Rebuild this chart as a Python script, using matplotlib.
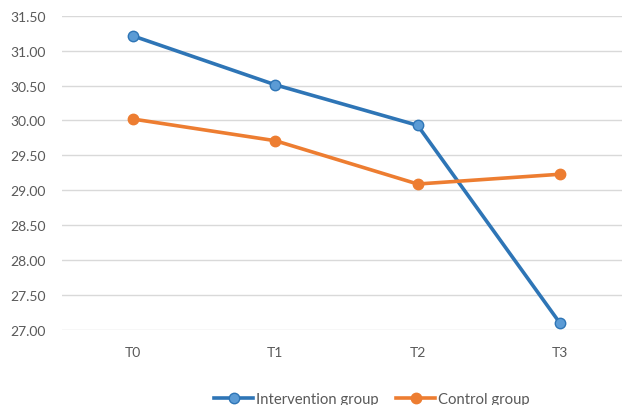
import matplotlib.pyplot as plt

times = ['T0', 'T1', 'T2', 'T3']
intervention = [31.21, 30.51, 29.93, 27.10]
control = [30.02, 29.71, 29.09, 29.23]
yticks = [27.0, 27.5, 28.0, 28.5, 29.0, 29.5, 30.0, 30.5, 31.0, 31.5]

plt.rcParams['font.family'] = ['Lato', 'DejaVu Sans']

fig = plt.figure(figsize=(6.22, 4.06), dpi=100)
# plot area runs past the right edge of the picture, like the original crop
ax = fig.add_axes([62/622, 1-331/406, 569/622, (331-16.7)/406])

x = list(range(len(times)))
ax.plot(x, intervention, color='#2e75b6', lw=2.6, marker='o', ms=7.5,
        mfc='#5b9bd5', mec='#2e75b6', mew=1.0, label='Intervention group', zorder=3)
ax.plot(x, control, color='#ed7d31', lw=2.6, marker='o', ms=7.5,
        mfc='#ed7d31', mec='#ed7d31', label='Control group', zorder=3)

ax.set_xlim(-0.5, len(times) - 0.5)
ax.set_ylim(27.0, 31.5)
ax.set_xticks(x)
ax.set_xticklabels(times)
ax.set_yticks(yticks)
ax.set_yticklabels(['%.2f' % v for v in yticks])
ax.tick_params(length=0, labelsize=10, labelcolor='#595959')
ax.tick_params(axis='y', pad=11.5)
ax.tick_params(axis='x', pad=11.5)
ax.grid(axis='y', color='#d9d9d9', lw=1.0)
ax.set_axisbelow(True)
for s in ax.spines.values():
    s.set_visible(False)

fig.legend(loc='center', bbox_to_anchor=(372/622, 1-400/406), ncol=2,
           frameon=False, fontsize=10.7, handlelength=2.6, handletextpad=0.2,
           columnspacing=1.2, labelcolor='#595959')

fig.savefig('out.png', dpi=100)
